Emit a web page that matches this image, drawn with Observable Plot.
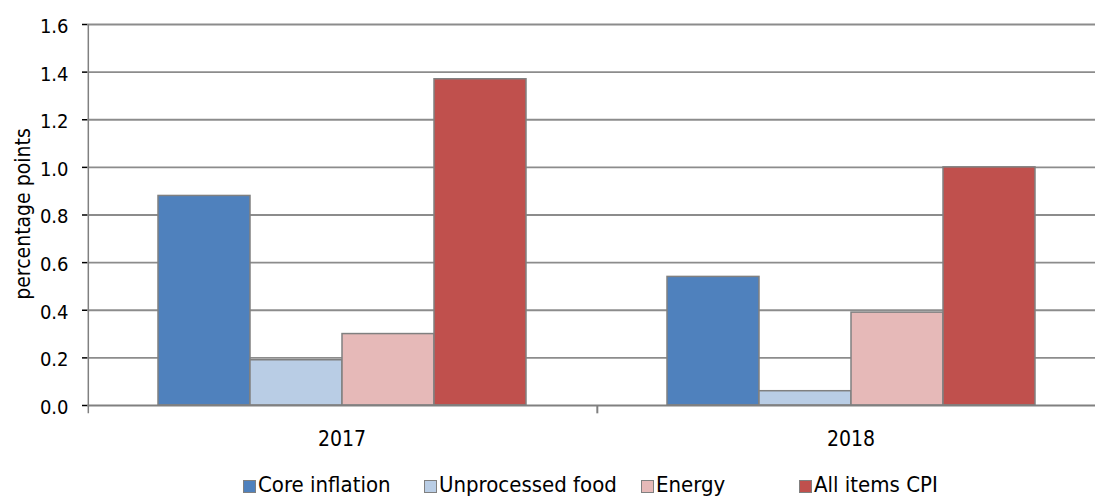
<!DOCTYPE html>
<html>
<head>
<meta charset="utf-8">
<script src="https://cdn.jsdelivr.net/npm/d3@7"></script>
<script src="https://cdn.jsdelivr.net/npm/@observablehq/plot@0.6"></script>
<style>
  html, body { margin: 0; padding: 0; background: #fff; overflow: hidden; }
  body { width: 1095px; height: 497px; position: relative; font-family: "DejaVu Sans Condensed", "DejaVu Sans", sans-serif; font-stretch: condensed; }
  #chart { position: absolute; left: 0; top: 0; width: 1105px; }
  #chart svg { max-width: none !important; }
  #legend { position: absolute; left: 0; top: 471px; width: 1095px; height: 28px; font-size: 22px; line-height: 28px; color: #000; white-space: nowrap; }
  #legend .item { position: absolute; top: 0; display: flex; align-items: center; }
  #legend .sw { width: 11px; height: 11px; border: 1.5px solid #808080; margin-right: 2px; margin-top: 3px; }
</style>
</head>
<body>
<div id="chart"></div>
<div id="legend"></div>
<script>
// ---- data ----
const years = ["2017", "2018"];
const series = ["Core inflation", "Unprocessed food", "Energy", "All items CPI"];
const values2017 = [0.88, 0.19, 0.30, 1.37];
const values2018 = [0.54, 0.06, 0.39, 1.00];
const colors = ["#4F81BD", "#B9CDE5", "#E6B9B8", "#C0504D"];
const yTicks = [0.0, 0.2, 0.4, 0.6, 0.8, 1.0, 1.2, 1.4, 1.6];
const yLabel = "percentage points";

const valuesByYear = [values2017, values2018];
const data = years.flatMap((yr, i) => series.map((s, j) => ({ year: yr, series: s, value: valuesByYear[i][j] })));

// ---- layout (styles) ----
const W = 1105, H = 470, ML = 87, MR = 0, MT = 24, MB = 65;
const padOuter = 0.76;
const step = (W - ML - MR) / years.length / (series.length + 2 * padOuter);
const firstBandCenterOffset = padOuter * step + step / 2;
const gridColor = "#8c8c8c";
const axisColor = "#808080";
const legendLeft = [243, 424, 641, 799];
const fontFamily = '"DejaVu Sans Condensed", "DejaVu Sans", sans-serif';

const chart = Plot.plot({
  width: W, height: H,
  marginLeft: ML, marginRight: MR, marginTop: MT, marginBottom: MB,
  style: { fontFamily, fontSize: "21px", color: "#000", background: "#fff", overflow: "visible", maxWidth: "none" },
  fx: { domain: years, padding: 0, label: null, axis: "bottom", tickSize: 0, tickPadding: 26 },
  x: { domain: series, paddingInner: 0, paddingOuter: padOuter, axis: null },
  y: { domain: [0, 1.6], ticks: yTicks, tickFormat: d3.format(".1f"), tickSize: 5, tickPadding: 14,
       label: yLabel, labelAnchor: "center", labelOffset: 72 },
  color: { domain: series, range: colors },
  marks: [
    Plot.ruleY(yTicks.filter(d => d > 0), { stroke: gridColor, strokeWidth: 1.8 }),
    Plot.barY(data, { fx: "year", x: "series", y: "value", fill: "series", stroke: axisColor, strokeWidth: 1.5 }),
    Plot.ruleY([0], { stroke: axisColor, strokeWidth: 2 }),
    // vertical y-axis line (left of first facet) and category separator tick
    Plot.ruleX([{ year: years[0], series: series[0] }], { fx: "year", x: "series", y1: 1.6, y2: -0.035, dx: -firstBandCenterOffset, stroke: axisColor, strokeWidth: 1.5 }),
    Plot.ruleX([{ year: years[1], series: series[0] }], { fx: "year", x: "series", y1: 0, y2: -0.035, dx: -firstBandCenterOffset, stroke: axisColor, strokeWidth: 2 })
  ]
});
chart.style.maxWidth = "none";
document.getElementById("chart").appendChild(chart);

// style axes
const svg = d3.select(chart);
svg.selectAll("text").style("font-stretch", "condensed");
svg.selectAll('[aria-label="y-axis tick"]').attr("stroke", axisColor).attr("stroke-width", 1.5);
svg.selectAll('[aria-label="y-axis tick label"] text').style("fill", "#000").style("font-size", "20px").attr("dy", "0.1em");
svg.selectAll('[aria-label="y-axis label"] text').text(yLabel).style("font-size", "21px").attr("dx", 1);
svg.selectAll('[aria-label^="fx-axis"] text').style("font-size", "21px").style("fill", "#000");

// legend
const legend = d3.select("#legend");
series.forEach((s, i) => {
  const item = legend.append("div").attr("class", "item").style("left", legendLeft[i] + "px");
  item.append("div").attr("class", "sw").style("background", colors[i]);
  item.append("span").text(s);
});
</script>
</body>
</html>
